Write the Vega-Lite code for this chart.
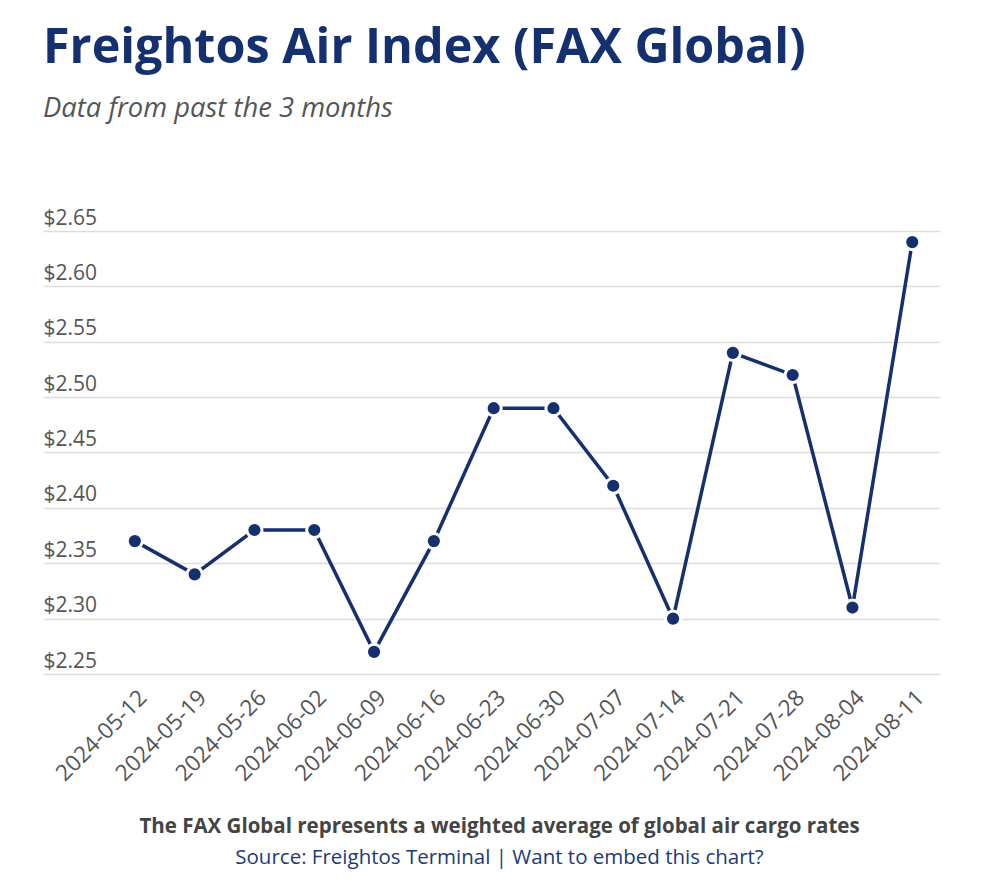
{
  "$schema": "https://vega.github.io/schema/vega-lite/v6.json",
  "background": "white",
  "padding": {"left": 43, "right": 47, "top": 24, "bottom": 10},
  "title": {
    "text": "Freightos Air Index (FAX Global)",
    "subtitle": "Data from past the 3 months",
    "anchor": "start",
    "frame": "group",
    "font": "Open Sans",
    "fontSize": 48.5,
    "fontWeight": "bold",
    "color": "#15306f",
    "subtitleFont": "Open Sans",
    "subtitleFontSize": 27.4,
    "subtitleFontStyle": "italic",
    "subtitleColor": "#555555",
    "subtitlePadding": 21,
    "offset": 84
  },
  "config": {"view": {"stroke": null}, "font": "Open Sans", "concat": {"spacing": 0}},
  "vconcat": [
    {
      "width": 897,
      "height": 443,
      "title": {
        "text": "The FAX Global represents a weighted average of global air cargo rates",
        "subtitle": "Source: Freightos Terminal | Want to embed this chart?",
        "orient": "bottom",
        "anchor": "middle",
        "frame": "group",
        "dx": 8,
        "font": "Open Sans",
        "fontSize": 20.5,
        "fontWeight": "bold",
        "color": "#444444",
        "subtitleFont": "Open Sans",
        "subtitleFontSize": 20.5,
        "subtitleColor": "#1d3a7a",
        "subtitlePadding": 11,
        "offset": 32
      },
      "data": {
        "values": [
          {"date": "2024-05-12", "value": 2.37},
          {"date": "2024-05-19", "value": 2.34},
          {"date": "2024-05-26", "value": 2.38},
          {"date": "2024-06-02", "value": 2.38},
          {"date": "2024-06-09", "value": 2.27},
          {"date": "2024-06-16", "value": 2.37},
          {"date": "2024-06-23", "value": 2.49},
          {"date": "2024-06-30", "value": 2.49},
          {"date": "2024-07-07", "value": 2.42},
          {"date": "2024-07-14", "value": 2.30},
          {"date": "2024-07-21", "value": 2.54},
          {"date": "2024-07-28", "value": 2.52},
          {"date": "2024-08-04", "value": 2.31},
          {"date": "2024-08-11", "value": 2.64}
        ]
      },
      "encoding": {
        "x": {
          "field": "date",
          "type": "ordinal",
          "scale": {"type": "point", "padding": 1.065, "align": 0.768},
          "axis": {
            "title": null,
            "labelAngle": -45,
            "ticks": false,
            "domain": false,
            "grid": false,
            "labelFont": "Open Sans",
            "labelFontSize": 22.5,
            "labelColor": "#555555",
            "labelPadding": 12
          }
        },
        "y": {
          "field": "value",
          "type": "quantitative",
          "scale": {"domain": [2.25, 2.65], "nice": false, "zero": false},
          "axis": {
            "title": null,
            "values": [2.25, 2.3, 2.35, 2.4, 2.45, 2.5, 2.55, 2.6, 2.65],
            "format": "$.2f",
            "labelAlign": "left",
            "labelBaseline": "alphabetic",
            "labelPadding": 0,
            "labelOffset": -7,
            "ticks": false,
            "domain": false,
            "gridColor": "#dddddd",
            "gridWidth": 1.5,
            "labelFont": "Open Sans",
            "labelFontSize": 21,
            "labelColor": "#555555"
          }
        }
      },
      "layer": [
        {"mark": {"type": "line", "color": "#15306f", "strokeWidth": 3.5}},
        {"mark": {"type": "point", "filled": true, "size": 230, "fill": "#15306f", "stroke": "white", "strokeWidth": 3, "opacity": 1, "fillOpacity": 1, "strokeOpacity": 1}}
      ]
    }
  ]
}
